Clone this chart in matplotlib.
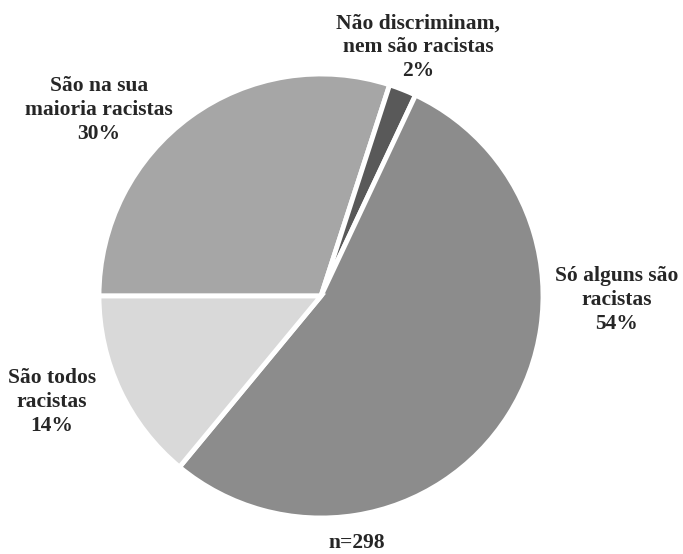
import matplotlib.pyplot as plt

# opinião sobre os portugueses (n=298)
labels = ['São na sua\nmaioria racistas', 'Não discriminam,\nnem são racistas',
          'Só alguns são\nracistas', 'São todos\nracistas']
values = [30, 2, 54, 14]
colors = ['#a6a6a6', '#595959', '#8c8c8c', '#d9d9d9']
n_total = 298

plt.rcParams['font.family'] = ['Liberation Serif', 'DejaVu Serif']

fig = plt.figure(figsize=(6.83, 5.54), dpi=100)
ax = fig.add_axes([0, 0, 1, 1])

ax.pie(values, colors=colors, startangle=180, counterclock=False,
       center=(321, 258), radius=222,
       wedgeprops=dict(edgecolor='white', linewidth=3.5))

ax.set_xlim(0, 683)
ax.set_ylim(0, 554)
ax.set_aspect('equal')
ax.axis('off')

# posições dos rótulos
label_pos = [(99, 444), (418, 507), (617, 254), (52, 152)]
for lab, v, (x, y) in zip(labels, values, label_pos):
    ax.text(x, y, f'{lab}\n{v}%', ha='center', va='center', fontsize=15.5,
            fontweight='bold', color='#262626', linespacing=1.25)

ax.text(357, 11, f'n={n_total}', ha='center', va='center', fontsize=15.5,
        fontweight='bold', color='#262626')

fig.savefig('out.png', dpi=100)
